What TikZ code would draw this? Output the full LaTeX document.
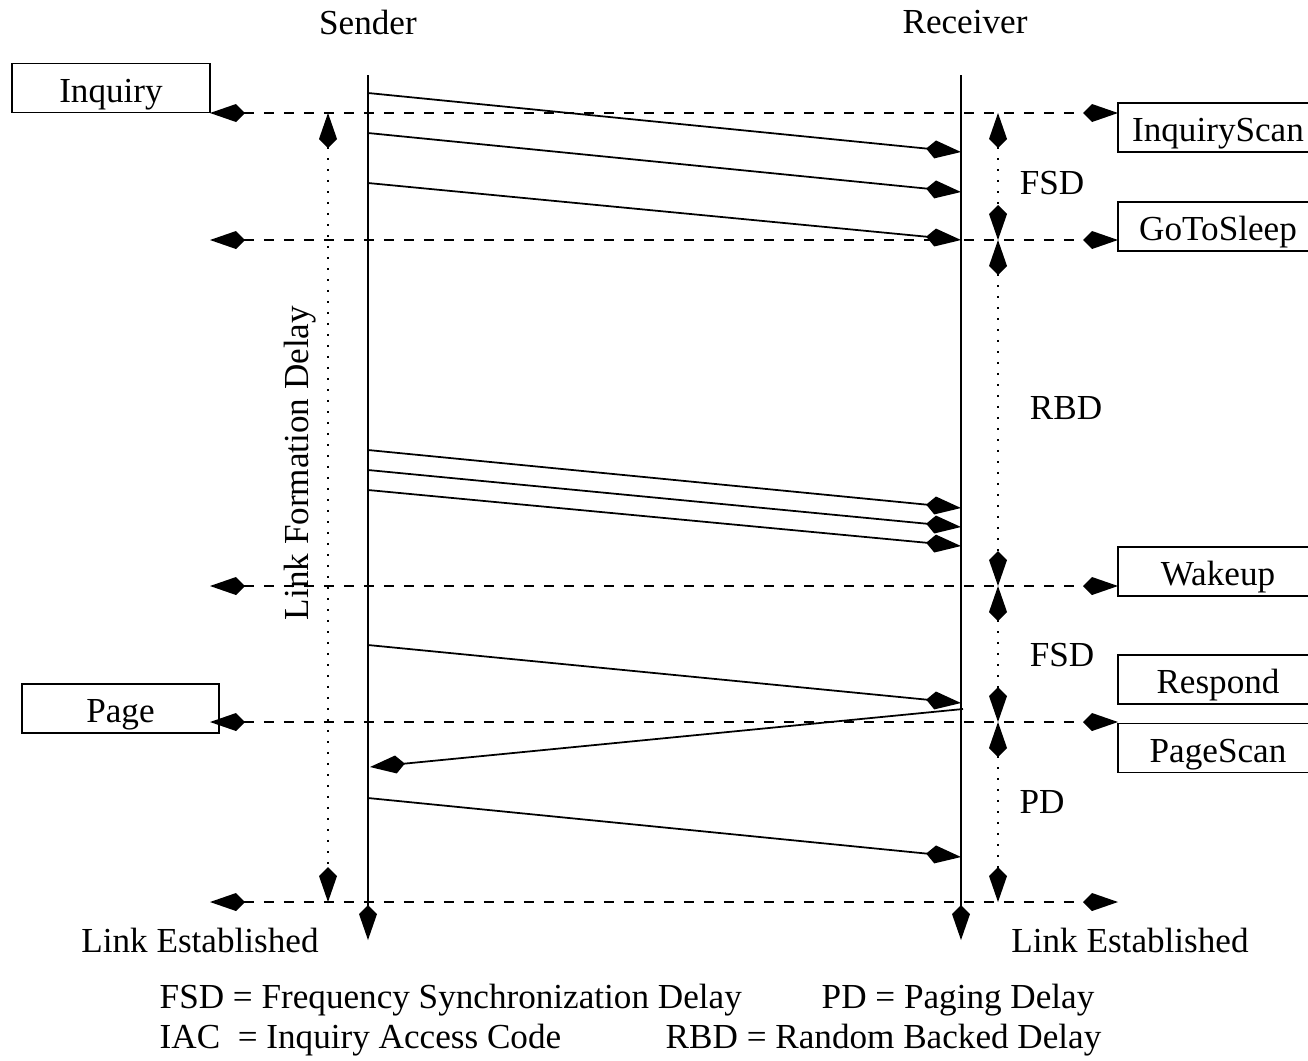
\documentclass[tikz,border=0pt]{standalone}
\usepackage{fontspec}
\setmainfont{Liberation Serif}
\usetikzlibrary{arrows.meta, positioning}

\tikzset{
  >={Kite[length=7mm,width=3.6mm,inset=1.8mm]},
  stage/.style={dash pattern=on 2mm off 2mm},
  span/.style={dash pattern=on 0.4mm off 1.8mm},
  statebox/.style={draw, minimum height=9.8mm, inner sep=0pt, text height=17pt, text depth=1pt}
}

\begin{document}
\begin{tikzpicture}[x=0.2mm, y=-0.2mm, line width=1pt, font=\fontsize{20}{24}\selectfont]

            \useasboundingbox (0,0) rectangle (1308,1060);
            \clip (0,0) rectangle (1308,1060);

            % Tieu de hai ben
            \node (sender) at (368,22) {Sender};
            \node (receiver) at (965,22) {Receiver};

            % Duong song
            \coordinate (stop) at (368,75);
            \coordinate (sbot) at (368,940);
            \coordinate (rtop) at (961,75);
            \coordinate (rbot) at (961,940);
            \draw[->] (stop) -- (sbot);
            \draw[->] (rtop) -- (rbot);

            % Cac hop trang thai
            \node[statebox, minimum width=39.6mm] (inquiry) at (111,88) {Inquiry};
            \node[statebox, minimum width=39.4mm] (page) at (120.5,708.5) {Page};
            \node[statebox, minimum width=40mm] (iscan) at (1218,127.5) {InquiryScan};
            \node[statebox, minimum width=40mm] (sleep) at (1218,226.5) {GoToSleep};
            \node[statebox, minimum width=40mm] (wake) at (1218,571.5) {Wakeup};
            \node[statebox, minimum width=40mm] (respond) at (1218,679.5) {Respond};
            \node[statebox, minimum width=40mm] (pscan) at (1218,748) {PageScan};

            % Cac moc thoi gian (duong net dut)
            \foreach \i/\y in {1/113, 2/240, 3/586, 4/722, 5/902} {
                \coordinate (L\i) at (210,\y);
                \coordinate (R\i) at (1118,\y);
                \coordinate (D\i) at (998,\y);
                \coordinate (F\i) at (328,\y);
                \draw[stage, <->] (L\i) -- (R\i);
            }

            % Khoang tre ben phai
            \foreach \a/\b in {1/2, 2/3, 3/4, 4/5}
                \draw[span, <->] (D\a) -- (D\b);
            \node (fsd1) at (1052,183) {FSD};
            \node (rbd) at (1066,408) {RBD};
            \node (fsd2) at (1062,655) {FSD};
            \node (pd) at (1042,802) {PD};

            % Khoang tre ben trai
            \draw[span, <->] (F1) -- (F5);
            \node[rotate=90] (lfd) at (300,463) {Link Formation Delay};

            % Cac goi tin gui di
            \foreach \n/\s/\r in {1/93/152, 2/133/192, 3/183/240, 4/450/508, 5/470/527, 6/490/546, 7/645/703, 8/798/857} {
                \coordinate (s\n) at (368,\s);
                \coordinate (r\n) at (961,\r);
                \draw[->] (s\n) -- (r\n);
            }

            % Goi tin tra loi
            \coordinate (reply) at (963,709);
            \coordinate (back) at (370,767);
            \draw[->] (reply) -- (back);

            % Ket thuc
            \node (est1) at (200,940) {Link Established};
            \node (est2) at (1130,940) {Link Established};

            % Chu thich
            \node[anchor=west] (k1) at (153,1000) {FSD = Frequency Synchronization Delay};
            \node[anchor=west] (k2) at (815,1000) {PD = Paging Delay};
            \node[anchor=west] (k3) at (153,1040) {IAC\ \ = Inquiry Access Code};
            \node[anchor=west] (k4) at (659,1040) {RBD = Random Backed Delay};

            \end{tikzpicture}
\end{document}
